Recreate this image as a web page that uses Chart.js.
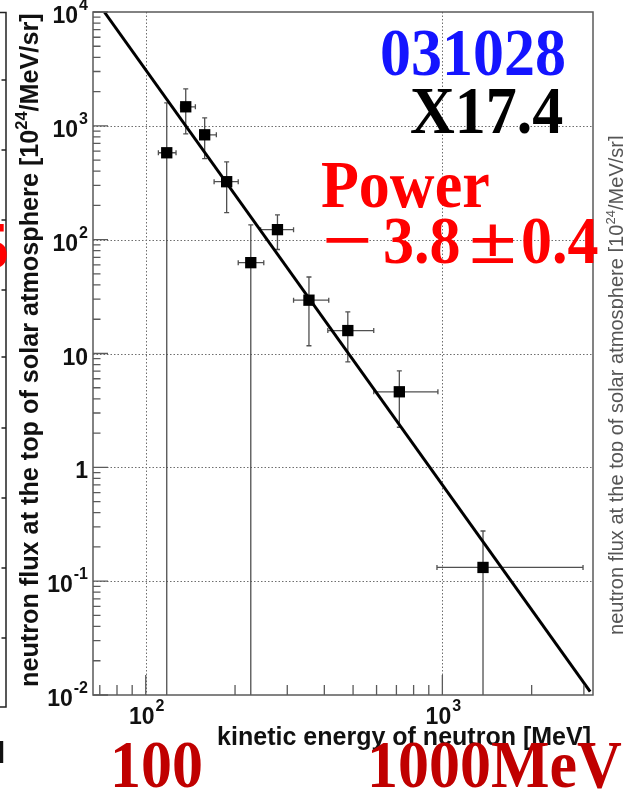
<!DOCTYPE html>
<html>
<head>
<meta charset="utf-8">
<script src="https://cdn.jsdelivr.net/npm/chart.js@4.4.1/dist/chart.umd.min.js"></script>
<style>
  html, body { margin: 0; padding: 0; background: #fff; }
  canvas { display: block; }
</style>
</head>
<body>
<canvas id="neutronChart" width="623" height="789"></canvas>
<script>
// measured points (kinetic energy MeV, flux 10^24/MeV/sr)
const energy     = [117.7, 136.4, 158, 187.4, 226, 278, 355, 480, 716, 1371];
const flux       = [580, 1470, 834, 323, 62.8, 122.5, 29.4, 15.9, 4.61, 0.132];
const energyLow  = [110.3, 131, 152, 170, 205, 244, 315, 411, 587, 959];
const energyHigh = [126.5, 147, 173, 205, 250, 315, 414, 587, 966, 2980];
// null = lower error runs off the bottom of the plot
const fluxLow    = [null, 850, 515, 173, null, 82, 11.7, 8.45, 2.25, null];
const fluxHigh   = [1590, 2110, 1175, 483, 135, 165, 47, 23.2, 7.05, 0.276];

// power law fit, two ends of the straight line
const fitEnergy = [72.5, 3150];
const fitFlux   = [10000, 0.0107];

// axes
const xRange = [66.4, 3220];
const yRange = [0.01, 10000];
const xMajor = [100, 1000];
const xMinor = [70, 80, 90, 200, 300, 400, 500, 600, 700, 800, 900, 2000, 3000];
const yDecades = [0.01, 0.1, 1, 10, 100, 1000, 10000];
const yMinorSteps = [2, 3, 4, 5, 6, 7, 8, 9];
const yTickLabels = [['10', '-2'], ['10', '-1'], ['1', ''], ['10', ''], ['10', '2'], ['10', '3'], ['10', '4']];
const xTickLabels = [['10', '2'], ['10', '3']];

const SANS = '"Liberation Sans", Arial, sans-serif';
const SERIF = '"Liberation Serif", "Times New Roman", serif';

function fitSize(ctx, parts, weight, target) {
  // font size so the whole string spans target px
  let w = 0;
  parts.forEach(p => {
    ctx.font = weight + ' ' + (p.sup ? 65 : 100) + 'px ' + SANS;
    w += ctx.measureText(p.t).width;
  });
  return 100 * target / w;
}

function drawRotated(ctx, parts, x, y, size, weight, color) {
  ctx.save();
  ctx.translate(x, y);
  ctx.rotate(-Math.PI / 2);
  ctx.fillStyle = color;
  ctx.textAlign = 'left';
  ctx.textBaseline = 'alphabetic';
  let cx = 0;
  parts.forEach(p => {
    const s = p.sup ? size * 0.65 : size;
    ctx.font = weight + ' ' + s + 'px ' + SANS;
    ctx.fillText(p.t, cx, p.sup ? -size * 0.42 : 0);
    cx += ctx.measureText(p.t).width;
  });
  ctx.restore();
}

function drawPower(ctx, base, exp, x, baseY, align) {
  ctx.font = 'bold 23px ' + SANS;
  const wb = ctx.measureText(base).width;
  ctx.font = 'bold 16px ' + SANS;
  const we = exp ? ctx.measureText(exp).width + 1 : 0;
  const left = align === 'right' ? x - wb - we : x - (wb + we) / 2;
  ctx.textAlign = 'left';
  ctx.font = 'bold 23px ' + SANS;
  ctx.fillText(base, left, baseY);
  if (exp) {
    ctx.font = 'bold 16px ' + SANS;
    ctx.fillText(exp, left + wb + 1, baseY - 13);
  }
}

function bigText(ctx, txt, x, y, color, sx) {
  ctx.save();
  ctx.translate(x, y);
  ctx.scale(sx || 1, 1.1);
  ctx.font = 'bold 62px ' + SERIF;
  ctx.fillStyle = color;
  ctx.textAlign = 'left';
  ctx.textBaseline = 'alphabetic';
  ctx.fillText(txt, 0, 0);
  ctx.restore();
}

const rootFrame = {
  id: 'rootFrame',
  beforeDatasetsDraw(chart) {
    const { ctx, chartArea: a, scales: { x, y } } = chart;
    ctx.save();

    // dotted grid at decades
    ctx.strokeStyle = '#6e6e6e';
    ctx.lineWidth = 1;
    ctx.setLineDash([1.5, 2]);
    yDecades.forEach(v => {
      const py = Math.round(y.getPixelForValue(v)) + 0.5;
      if (py < a.top + 3 || py > a.bottom - 3) return;
      ctx.beginPath();
      ctx.moveTo(a.left, py);
      ctx.lineTo(a.right, py);
      ctx.stroke();
    });
    xMajor.forEach(v => {
      const px = Math.round(x.getPixelForValue(v)) + 0.5;
      ctx.beginPath();
      ctx.moveTo(px, a.top);
      ctx.lineTo(px, a.bottom);
      ctx.stroke();
    });
    ctx.setLineDash([]);

    // error bars
    ctx.strokeStyle = '#505050';
    ctx.lineWidth = 1.3;
    energy.forEach((e, i) => {
      const px = x.getPixelForValue(e);
      const py = y.getPixelForValue(flux[i]);
      const x0 = x.getPixelForValue(energyLow[i]);
      const x1 = x.getPixelForValue(energyHigh[i]);
      const yTop = y.getPixelForValue(fluxHigh[i]);
      const yBot = fluxLow[i] === null ? a.bottom : y.getPixelForValue(fluxLow[i]);
      ctx.beginPath();
      ctx.moveTo(x0, py); ctx.lineTo(x1, py);
      ctx.moveTo(x0, py - 2.5); ctx.lineTo(x0, py + 2.5);
      ctx.moveTo(x1, py - 2.5); ctx.lineTo(x1, py + 2.5);
      ctx.moveTo(px, yTop); ctx.lineTo(px, yBot);
      ctx.moveTo(px - 2.5, yTop); ctx.lineTo(px + 2.5, yTop);
      if (fluxLow[i] !== null) {
        ctx.moveTo(px - 2.5, yBot); ctx.lineTo(px + 2.5, yBot);
      }
      ctx.stroke();
    });
    ctx.restore();
  },

  afterDraw(chart) {
    const { ctx, chartArea: a, scales: { x, y } } = chart;
    ctx.save();

    // frame
    ctx.strokeStyle = '#5a5a5a';
    ctx.lineWidth = 1.5;
    ctx.strokeRect(a.left, a.top, a.right - a.left, a.bottom - a.top);

    // ticks, drawn inwards like ROOT
    ctx.lineWidth = 1.3;
    ctx.beginPath();
    yDecades.forEach((d, k) => {
      const py = y.getPixelForValue(d);
      ctx.moveTo(a.left, py); ctx.lineTo(a.left + 15, py);
      if (k < yDecades.length - 1) {
        yMinorSteps.forEach(m => {
          const pm = y.getPixelForValue(d * m);
          ctx.moveTo(a.left, pm); ctx.lineTo(a.left + 7.5, pm);
        });
      }
    });
    xMajor.forEach(v => {
      const px = x.getPixelForValue(v);
      ctx.moveTo(px, a.bottom); ctx.lineTo(px, a.bottom - 20);
    });
    xMinor.forEach(v => {
      const px = x.getPixelForValue(v);
      ctx.moveTo(px, a.bottom); ctx.lineTo(px, a.bottom - 10);
    });
    ctx.stroke();

    // tick labels
    ctx.fillStyle = '#111';
    ctx.textBaseline = 'alphabetic';
    yDecades.forEach((d, k) => {
      const py = y.getPixelForValue(d);
      drawPower(ctx, yTickLabels[k][0], yTickLabels[k][1], a.left - 5, py + 11, 'right');
    });
    xMajor.forEach((v, k) => {
      const px = x.getPixelForValue(v);
      drawPower(ctx, xTickLabels[k][0], xTickLabels[k][1], px + 1, a.bottom + 29, 'center');
    });

    // axis titles
    const xTitle = [{ t: 'kinetic energy of neutron [MeV]' }];
    const xs = fitSize(ctx, xTitle, 'bold', 374);
    ctx.font = 'bold ' + xs + 'px ' + SANS;
    ctx.fillStyle = '#111';
    ctx.textAlign = 'right';
    ctx.fillText(xTitle[0].t, a.right - 2, 745);

    const yTitle = [
      { t: 'neutron flux at the top of solar atmosphere [10' },
      { t: '24', sup: true },
      { t: '/MeV/sr]' }
    ];
    const ys = fitSize(ctx, yTitle, 'bold', 674);
    drawRotated(ctx, yTitle, 38, 687, ys, 'bold', '#111');

    // title of the neighbouring panel, cut by the right edge
    const gs = fitSize(ctx, yTitle, 'normal', 500);
    drawRotated(ctx, yTitle, 623, 635, gs, 'normal', '#555');

    // left neighbouring panel edge
    ctx.strokeStyle = '#222';
    ctx.lineWidth = 1.5;
    ctx.beginPath();
    ctx.moveTo(0, 12.5); ctx.lineTo(6, 12.5); ctx.lineTo(6, 707); ctx.lineTo(0, 707);
    [80, 150, 220, 290, 357, 428, 498, 568, 638].forEach(t => {
      ctx.moveTo(1.5, t); ctx.lineTo(6, t);
    });
    ctx.stroke();
    ctx.fillStyle = '#111';
    ctx.font = 'bold 30px ' + SANS;
    ctx.textAlign = 'left';
    ctx.fillText('l', -3, 763);
    bigText(ctx, '5', -22, 268, '#ff0000');

    // overlay annotations
    bigText(ctx, '031028', 380, 75, '#1414ff');
    bigText(ctx, 'X17.4', 410, 133, '#000');
    bigText(ctx, 'Power', 321, 207, '#ff0000');
    bigText(ctx, '\u2212', 322, 263, '#ff0000', 1.45);
    bigText(ctx, '3.8', 383, 263, '#ff0000');
    bigText(ctx, '\u00b1', 469, 263, '#ff0000', 1.4);
    bigText(ctx, '0.4', 521, 263, '#ff0000');
    bigText(ctx, '100', 110, 787, '#c00000');
    bigText(ctx, '1000MeV', 367, 787, '#c00000');

    ctx.restore();
  }
};

new Chart(document.getElementById('neutronChart'), {
  type: 'scatter',
  data: {
    datasets: [
      {
        label: 'fit',
        type: 'line',
        data: fitEnergy.map((e, i) => ({ x: e, y: fitFlux[i] })),
        borderColor: '#000',
        borderWidth: 3,
        pointRadius: 0,
        fill: false,
        tension: 0,
        order: 0
      },
      {
        label: 'flux',
        data: energy.map((e, i) => ({ x: e, y: flux[i] })),
        pointStyle: 'rect',
        pointRadius: 8,
        backgroundColor: '#000',
        borderColor: '#000',
        borderWidth: 0,
        order: 1
      }
    ]
  },
  options: {
    responsive: false,
    animation: false,
    devicePixelRatio: 1,
    layout: { padding: { left: 93, right: 30, top: 12, bottom: 94 } },
    plugins: {
      legend: { display: false },
      tooltip: { enabled: false }
    },
    scales: {
      x: { type: 'logarithmic', min: xRange[0], max: xRange[1], display: false },
      y: { type: 'logarithmic', min: yRange[0], max: yRange[1], display: false }
    }
  },
  plugins: [rootFrame]
});
</script>
</body>
</html>
